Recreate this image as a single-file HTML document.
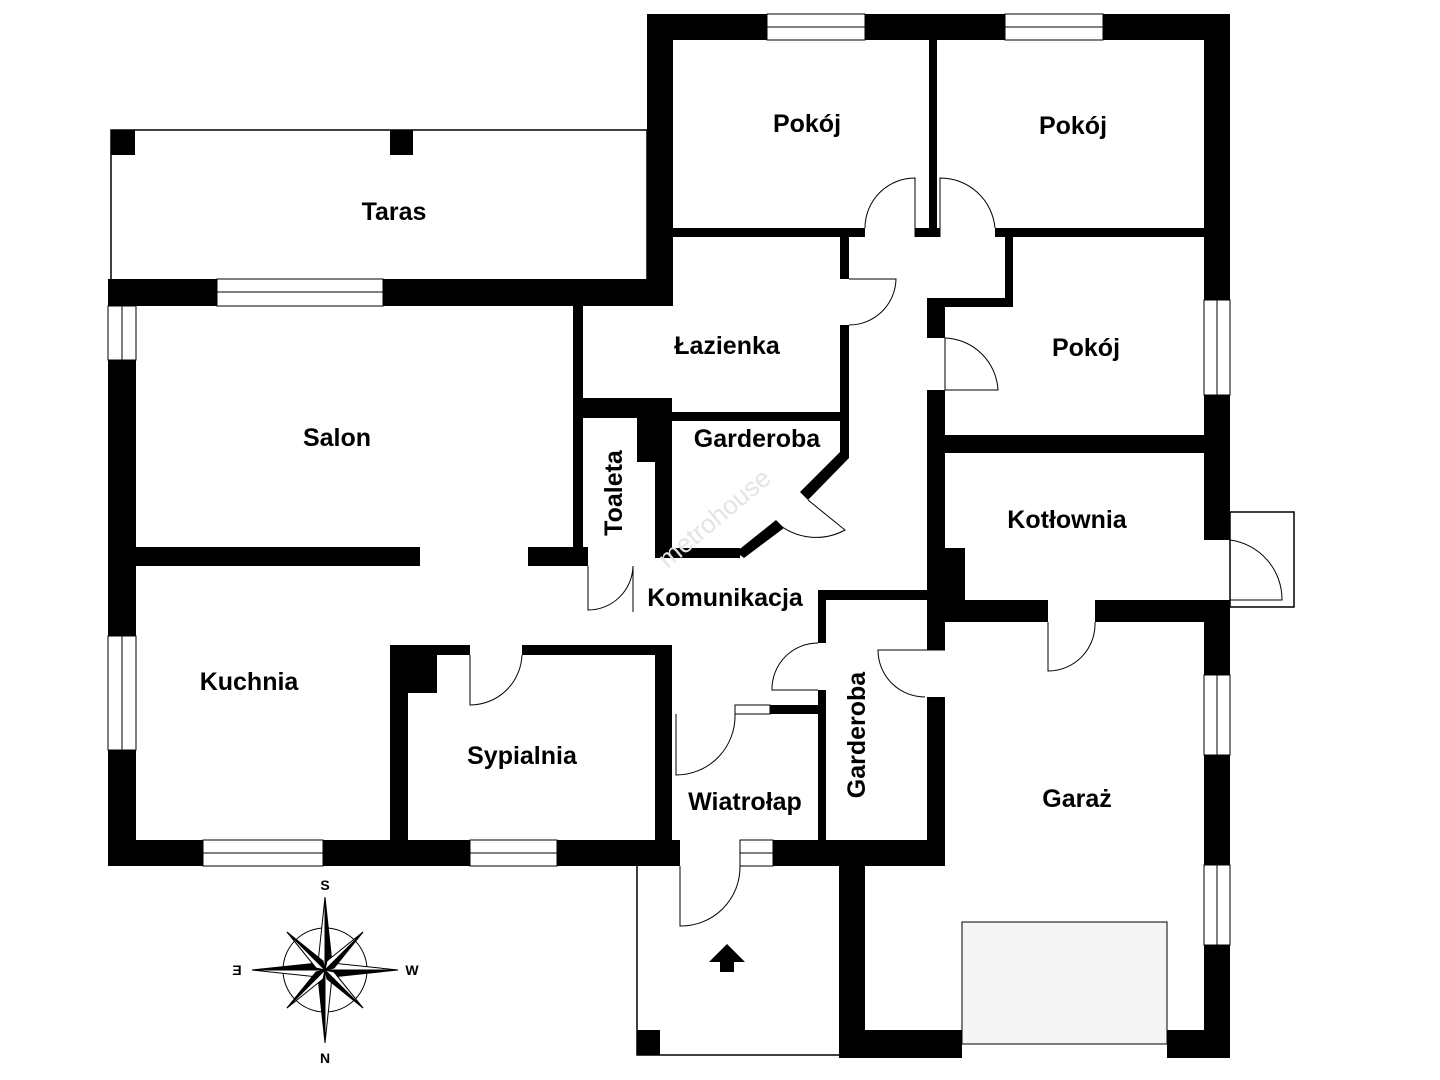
<!DOCTYPE html>
<html><head><meta charset="utf-8"><style>
html,body{margin:0;padding:0;background:#fff;}
svg{display:block}
text{font-family:"Liberation Sans",sans-serif;font-weight:bold;font-size:25px;fill:#000}
</style></head><body>
<svg width="1440" height="1080" viewBox="0 0 1440 1080" xmlns="http://www.w3.org/2000/svg">
<g fill="none" stroke="#000" stroke-width="1.5">
<rect x="111" y="130" width="536" height="150"/>
<path d="M637 866 V1055 H839"/>
<rect x="1230" y="512" width="64" height="95"/>
<rect x="962" y="922" width="205" height="122" fill="#f5f5f5" stroke-width="1"/>
</g>
<g fill="#000">
<rect x="111" y="130" width="24" height="25"/>
<rect x="390" y="130" width="23" height="25"/>
<rect x="637" y="1030" width="23" height="25"/>
<rect x="647" y="14" width="120" height="26"/>
<rect x="865" y="14" width="140" height="26"/>
<rect x="1103" y="14" width="127" height="26"/>
<rect x="647" y="14" width="26" height="292"/>
<rect x="1204" y="14" width="26" height="286"/>
<rect x="1204" y="395" width="26" height="145"/>
<rect x="1204" y="600" width="26" height="75"/>
<rect x="1204" y="755" width="26" height="110"/>
<rect x="1204" y="945" width="26" height="113"/>
<rect x="929" y="40" width="8" height="195"/>
<rect x="673" y="228" width="192" height="9"/>
<rect x="915" y="228" width="25" height="9"/>
<rect x="995" y="228" width="209" height="9"/>
<rect x="108" y="279" width="109" height="27"/>
<rect x="383" y="279" width="290" height="27"/>
<rect x="108" y="360" width="28" height="276"/>
<rect x="108" y="750" width="28" height="116"/>
<rect x="108" y="840" width="95" height="26"/>
<rect x="323" y="840" width="147" height="26"/>
<rect x="557" y="840" width="123" height="26"/>
<rect x="773" y="840" width="172" height="26"/>
<rect x="136" y="547" width="284" height="19"/>
<rect x="528" y="547" width="60" height="19"/>
<rect x="573" y="306" width="10" height="260"/>
<rect x="573" y="398" width="99" height="20"/>
<rect x="655" y="398" width="17" height="160"/>
<rect x="637" y="418" width="20" height="44"/>
<rect x="672" y="412" width="168" height="9"/>
<rect x="840" y="237" width="9" height="42"/>
<rect x="840" y="325" width="9" height="130"/>
<rect x="655" y="548" width="85" height="10"/>
<polygon points="840,452 849,452 849,458 808,500 800,492"/>
<polygon points="776,520 784,528 744,558 736,552"/>
<rect x="1005" y="237" width="8" height="70"/>
<rect x="927" y="298" width="86" height="9"/>
<rect x="927" y="298" width="18" height="40"/>
<rect x="927" y="390" width="18" height="260"/>
<rect x="945" y="435" width="259" height="18"/>
<rect x="945" y="548" width="20" height="57"/>
<rect x="945" y="600" width="103" height="22"/>
<rect x="1095" y="600" width="109" height="22"/>
<rect x="927" y="697" width="18" height="169"/>
<rect x="818" y="590" width="109" height="10"/>
<rect x="818" y="590" width="8" height="53"/>
<rect x="818" y="690" width="8" height="150"/>
<rect x="770" y="705" width="48" height="9"/>
<rect x="390" y="645" width="80" height="10"/>
<rect x="522" y="645" width="150" height="10"/>
<rect x="390" y="645" width="18" height="195"/>
<rect x="390" y="645" width="47" height="48"/>
<rect x="655" y="645" width="17" height="195"/>
<rect x="839" y="840" width="26" height="218"/>
<rect x="839" y="1030" width="123" height="28"/>
<rect x="1167" y="1030" width="63" height="28"/>
<polygon points="727,944 745,962 734,962 734,972 720,972 720,962 709,962"/>
</g>
<g fill="#fff" stroke="#000" stroke-width="1">
<rect x="767" y="14" width="98" height="26"/><line x1="767" y1="27" x2="865" y2="27"/>
<rect x="1005" y="14" width="98" height="26"/><line x1="1005" y1="27" x2="1103" y2="27"/>
<rect x="217" y="279" width="166" height="27"/><line x1="217" y1="292" x2="383" y2="292"/>
<rect x="108" y="306" width="28" height="54"/><line x1="122" y1="306" x2="122" y2="360"/>
<rect x="108" y="636" width="28" height="114"/><line x1="122" y1="636" x2="122" y2="750"/>
<rect x="203" y="840" width="120" height="26"/><line x1="203" y1="853" x2="323" y2="853"/>
<rect x="470" y="840" width="87" height="26"/><line x1="470" y1="853" x2="557" y2="853"/>
<rect x="740" y="840" width="33" height="26"/><line x1="740" y1="853" x2="773" y2="853"/>
<rect x="1204" y="300" width="26" height="95"/><line x1="1217" y1="300" x2="1217" y2="395"/>
<rect x="1204" y="675" width="26" height="80"/><line x1="1217" y1="675" x2="1217" y2="755"/>
<rect x="1204" y="865" width="26" height="80"/><line x1="1217" y1="865" x2="1217" y2="945"/>
<rect x="735" y="705" width="35" height="9"/>
</g>
<g fill="none" stroke="#000" stroke-width="1">
<path d="M915 237 V178 A50 50 0 0 0 865 228"/>
<path d="M940 237 V178 A55 55 0 0 1 995 228"/>
<path d="M849 279 H896 A47 47 0 0 1 849 325"/>
<path d="M945 338 V390 H998 A55 55 0 0 0 945 338"/>
<path d="M808 500 L845 530 A60 60 0 0 1 776 522"/>
<path d="M588 566 V610 A45 45 0 0 0 633 566 V612"/>
<path d="M470 655 H470 V705 A52 52 0 0 0 522 655"/>
<path d="M818 690 H772 A46 46 0 0 1 818 643"/>
<path d="M945 650 H878 A47 47 0 0 0 925 697"/>
<path d="M1048 622 V671 A47 47 0 0 0 1095 622"/>
<path d="M676 714 V775 A59 59 0 0 0 735 714"/>
<path d="M680 866 V926 A59 59 0 0 0 740 866"/>
<path d="M1230 540 V600 H1282 A60 60 0 0 0 1230 540"/>
</g>
<g transform="translate(325,970)">
<circle r="42" fill="none" stroke="#000" stroke-width="1"/>
<g stroke="#000" stroke-width="1">
<polygon points="0,-73 7,-7 0,0" fill="#000"/><polygon points="0,-73 -7,-7 0,0" fill="#fff"/>
<polygon points="0,73 -7,7 0,0" fill="#000"/><polygon points="0,73 7,7 0,0" fill="#fff"/>
<polygon points="-73,0 -7,-7 0,0" fill="#000"/><polygon points="-73,0 -7,7 0,0" fill="#fff"/>
<polygon points="73,0 7,7 0,0" fill="#000"/><polygon points="73,0 7,-7 0,0" fill="#fff"/>
<polygon points="-38,-38 -2,-9 0,0" fill="#000"/><polygon points="-38,-38 -9,-2 0,0" fill="#fff"/>
<polygon points="38,-38 9,-2 0,0" fill="#000"/><polygon points="38,-38 2,-9 0,0" fill="#fff"/>
<polygon points="38,38 2,9 0,0" fill="#000"/><polygon points="38,38 9,2 0,0" fill="#fff"/>
<polygon points="-38,38 -9,2 0,0" fill="#000"/><polygon points="-38,38 -2,9 0,0" fill="#fff"/>
</g>
<text x="0" y="-80" text-anchor="middle" style="font-size:14px">S</text>
<text x="0" y="93" text-anchor="middle" style="font-size:14px">N</text>
<text x="87" y="5" text-anchor="middle" style="font-size:14px">W</text>
<text x="-88" y="5" text-anchor="middle" style="font-size:14px" transform="scale(-1,1) translate(176,0)">E</text>
</g>
<text x="807" y="132" text-anchor="middle">Pokój</text>
<text x="1073" y="134" text-anchor="middle">Pokój</text>
<text x="394" y="220" text-anchor="middle">Taras</text>
<text x="727" y="354" text-anchor="middle">Łazienka</text>
<text x="1086" y="356" text-anchor="middle">Pokój</text>
<text x="337" y="446" text-anchor="middle">Salon</text>
<text x="757" y="447" text-anchor="middle">Garderoba</text>
<text x="1067" y="528" text-anchor="middle">Kotłownia</text>
<text transform="translate(622,493) rotate(-90)" text-anchor="middle">Toaleta</text>
<text x="725" y="606" text-anchor="middle">Komunikacja</text>
<text x="249" y="690" text-anchor="middle">Kuchnia</text>
<text x="522" y="764" text-anchor="middle">Sypialnia</text>
<text x="745" y="810" text-anchor="middle">Wiatrołap</text>
<text transform="translate(865,735) rotate(-90)" text-anchor="middle">Garderoba</text>
<text x="1077" y="807" text-anchor="middle">Garaż</text>
<text transform="translate(720,525) rotate(-40)" text-anchor="middle" style="font-weight:normal;font-size:26px;fill:#e4e4e4">metrohouse</text>
</svg>
</body></html>
